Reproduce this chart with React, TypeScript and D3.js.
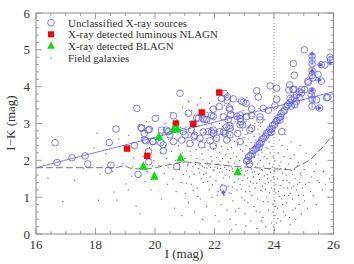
import * as d3 from "d3";

// I magnitude / I-K colour
const nlagn: [number, number][] = [
  [19.06, 2.32], [19.74, 2.12], [20.7, 3.0], [21.29, 2.99], [21.57, 3.3], [22.16, 3.84],
];

const blagn: [number, number][] = [
  [19.61, 1.83], [19.98, 1.56], [20.13, 2.63], [20.62, 2.84], [20.75, 2.84], [20.86, 2.06], [22.78, 1.68],
];

const unclassified: [number, number][] = [
  [16.64, 2.48], [16.71, 1.94], [17.21, 2.07], [17.65, 2.12], [17.74, 1.9], [18.43, 1.73], [18.46, 2.48],
  [18.52, 1.87], [18.69, 2.85], [19.31, 2.4], [19.39, 3.41], [19.43, 1.62], [19.53, 2.89], [19.64, 2.73],
  [19.69, 2.53], [19.78, 2.24], [19.79, 1.96], [19.81, 2.84], [19.92, 2.51], [20.01, 3.14], [20.2, 2.48],
  [20.28, 2.26], [20.39, 2.82], [20.5, 2.69], [20.73, 1.83], [20.84, 3.82],
  [19.55, 2.87], [19.66, 2.55], [19.77, 2.82], [19.94, 2.51], [20.22, 2.82], [20.28, 2.42], [20.45, 2.78],
  [20.62, 2.51], [20.62, 3.21], [20.9, 2.55], [20.95, 2.78], [21.01, 2.69], [21.12, 3.28], [21.18, 2.46],
  [21.23, 2.82], [21.31, 2.64], [21.34, 2.68], [21.4, 3.15], [21.46, 3.14], [21.51, 2.6], [21.57, 2.42],
  [21.62, 2.77], [21.62, 3.13], [21.68, 3.11], [21.74, 3.11], [21.79, 2.78], [21.85, 2.53], [21.9, 2.77],
  [21.9, 3.22], [21.96, 2.39], [21.96, 2.73], [21.96, 2.82], [21.96, 3.19], [21.96, 3.39], [22.07, 2.6],
  [22.16, 3.46], [22.18, 2.78], [22.24, 3.68], [22.3, 2.77], [22.3, 3.18], [22.33, 3.82], [22.35, 2.73],
  [22.41, 2.55], [22.41, 2.91], [22.43, 3.62], [22.43, 3.72], [22.46, 3.11], [22.5, 3.42], [22.52, 2.69],
  [22.52, 2.87], [22.52, 2.95], [22.52, 3.37], [22.54, 3.24], [22.63, 3.67], [22.75, 3.19], [22.78, 2.73],
  [22.86, 2.51], [22.86, 2.97], [22.86, 3.13], [22.86, 3.23], [22.89, 3.05], [22.91, 3.61], [22.95, 2.96],
  [22.97, 3.58], [23.06, 3.55], [23.08, 3.19], [23.19, 2.82], [23.25, 2.87], [23.25, 3.22], [23.25, 3.39],
  [23.42, 3.89], [23.47, 3.72], [23.53, 3.1], [23.53, 3.18], [23.64, 3.41], [23.81, 3.36], [23.87, 4.02],
  [24.03, 3.48], [24.09, 3.66], [24.09, 3.96], [24.26, 2.78], [22.3, 1.24],
  [24.5, 3.91], [24.54, 3.68], [24.67, 3.93], [24.93, 3.93], [25.15, 4.11], [25.43, 3.64], [25.77, 3.7],
  [25.02, 5.0], [25.88, 4.8], [24.65, 4.63], [25.71, 4.59], [24.68, 4.31], [24.53, 4.05], [24.64, 3.92],
  [25.14, 4.15], [25.31, 4.24], [25.48, 4.33], [25.59, 4.6], [25.59, 4.15], [25.9, 4.73], [25.81, 3.71],
  [25.03, 3.92], [24.92, 3.83], [24.86, 3.69], [24.75, 3.6], [24.7, 3.51], [24.58, 3.47], [25.25, 3.78],
  [25.28, 3.47], [25.53, 3.42], [25.28, 4.83], [25.28, 4.72], [25.28, 4.62], [25.28, 4.43], [25.28, 4.3],
  [25.28, 3.88], [25.28, 3.66],
  // K-limit stripe
  [23.08, 1.98], [23.13, 2.0], [23.15, 2.1], [23.21, 2.14], [23.27, 2.18], [23.3, 2.26], [23.37, 2.3],
  [23.42, 2.34], [23.45, 2.42], [23.52, 2.46], [23.57, 2.5], [23.6, 2.58], [23.66, 2.6], [23.72, 2.66],
  [23.76, 2.74], [23.82, 2.76], [23.86, 2.84], [23.93, 2.86], [23.96, 2.95], [24.02, 2.98], [24.07, 3.06],
  [24.11, 3.08], [24.16, 3.16], [24.22, 3.18], [24.25, 3.27], [24.31, 3.32], [24.36, 3.36], [24.41, 3.46],
  [24.46, 3.5], [24.53, 3.56], [24.6, 3.64], [24.68, 3.7], [24.76, 3.78], [24.85, 3.86], [23.18, 1.9],
  [23.5, 2.36], [23.9, 2.76], [24.2, 3.1],
];

// limits: [I, I-K from, I-K to] vertical, [I from, I to, I-K] horizontal
const vLimits: [number, number, number][] = [
  [25.28, 4.58, 4.95], [25.28, 4.22, 4.5], [25.28, 3.42, 3.98], [22.3, 1.2, 1.05], [25.88, 4.82, 4.58],
];
const hLimits: [number, number, number][] = [
  [25.42, 25.64, 4.59], [25.36, 25.6, 4.18], [25.36, 25.6, 3.42],
];

const fitLine: [number, number][] = [[16, 1.8], [26, 3.86]];

const limitCurve: [number, number][] = [
  [16, 1.8], [18.7, 1.8], [18.95, 1.855], [19.2, 1.78], [19.7, 1.76], [20.06, 1.81], [20.95, 1.96],
  [21.6, 1.92], [22.75, 1.83], [24.2, 1.76], [24.6, 1.74], [24.87, 1.87], [25.1, 1.96], [25.25, 2.04],
  [25.43, 2.19], [25.66, 2.37], [25.78, 2.5], [25.88, 2.6], [26, 2.64],
];

const fieldGalaxies: [number, number][] = [
  [16.4, 1.52], [16.9, 0.88], [17.3, 1.46], [17.6, 1.79], [17.95, 2.33], [18.1, 0.92], [18.15, 1.63],
  [18.35, 2.18], [18.62, 1.14], [18.72, 0.92], [18.78, 2.58], [18.92, 1.91], [19.02, 1.36], [19.12, 2.68],
  [19.22, 1.57], [19.28, 2.06], [19.36, 0.76], [19.47, 2.92], [18.05, 2.74], [19.25, 1.82], [18.58, 1.7],
  [19.1, 1.2],
  [19.55, 2.62], [19.61, 2.1], [19.66, 1.42], [19.71, 3.05], [19.74, 1.7], [19.82, 2.35], [19.86, 1.2],
  [19.9, 2.86], [19.96, 2.0], [20.02, 1.55], [20.06, 2.45], [20.1, 3.22], [20.13, 1.86], [20.18, 2.2],
  [20.21, 0.95], [20.26, 2.7], [20.31, 1.65], [20.33, 3.0], [20.39, 2.05], [20.41, 1.35], [20.46, 2.56],
  [20.5, 1.9], [20.53, 3.3], [20.56, 2.25], [20.6, 1.5], [20.64, 2.75], [20.68, 2.0], [20.71, 1.15],
  [20.73, 3.1], [20.79, 2.4], [20.81, 1.75], [20.86, 2.9], [20.88, 1.4], [20.91, 2.2], [20.93, 3.45],
  [20.97, 1.95], [20.99, 2.6], [19.63, 2.95], [19.92, 1.85], [20.35, 2.4], [20.66, 0.7], [20.16, 2.55],
  [20.44, 1.8], [20.76, 2.55], [20.95, 1.62],
  [21.02, 1.1], [21.05, 1.72], [21.01, 2.05], [21.08, 2.38], [21.04, 2.9], [21.07, 3.25],
  [21.12, 0.85], [21.15, 1.55], [21.11, 1.9], [21.18, 2.25], [21.14, 2.62], [21.16, 3.05], [21.13, 3.6],
  [21.22, 1.35], [21.27, 1.83], [21.21, 2.12], [21.25, 2.48], [21.29, 2.8], [21.23, 3.35],
  [21.33, 0.6], [21.31, 1.62], [21.36, 1.95], [21.38, 2.3], [21.32, 2.7], [21.35, 3.1],
  [21.42, 1.25], [21.47, 1.78], [21.41, 2.05], [21.45, 2.42], [21.48, 2.95], [21.43, 3.5],
  [21.52, 0.95], [21.55, 1.5], [21.51, 1.88], [21.58, 2.18], [21.54, 2.55], [21.57, 3.2], [21.53, 3.7],
  [21.62, 1.4], [21.66, 1.8], [21.61, 2.02], [21.68, 2.35], [21.64, 2.75], [21.67, 3.05],
  [21.73, 0.75], [21.71, 1.65], [21.76, 1.92], [21.78, 2.28], [21.72, 2.6], [21.75, 3.3],
  [21.82, 1.2], [21.85, 1.55], [21.81, 1.85], [21.88, 2.1], [21.84, 2.48], [21.86, 2.88], [21.83, 3.55],
  [21.92, 1.0], [21.95, 1.72], [21.91, 1.98], [21.97, 2.32], [21.94, 2.65], [21.98, 3.15],
  [22.02, 0.5], [22.05, 1.45], [22.01, 1.82], [22.07, 2.08], [22.04, 2.4], [22.08, 2.78], [22.03, 3.4],
  [22.12, 1.15], [22.16, 1.68], [22.11, 1.9], [22.18, 2.22], [22.14, 2.55], [22.17, 3.0], [22.13, 3.62],
  [22.22, 0.8], [22.25, 1.35], [22.21, 1.78], [22.27, 2.05], [22.24, 2.38], [22.28, 2.7], [22.23, 3.25],
  [22.32, 1.05], [22.36, 1.6], [22.31, 1.88], [22.38, 2.15], [22.34, 2.5], [22.37, 2.9], [22.33, 3.5],
  [22.42, 0.65], [22.45, 1.3], [22.41, 1.75], [22.47, 1.95], [22.44, 2.3], [22.48, 2.62], [22.43, 3.1],
  [22.46, 3.75],
  [22.52, 0.4], [22.55, 1.1], [22.51, 1.55], [22.58, 1.82], [22.54, 2.05], [22.57, 2.35], [22.53, 2.68],
  [22.56, 3.0], [22.59, 3.45],
  [22.62, 0.9], [22.66, 1.4], [22.61, 1.7], [22.68, 1.92], [22.64, 2.2], [22.67, 2.52], [22.63, 2.85],
  [22.65, 3.3],
  [22.72, 0.25], [22.75, 1.2], [22.71, 1.62], [22.78, 1.85], [22.74, 2.1], [22.77, 2.42], [22.73, 2.75],
  [22.76, 3.15], [22.79, 3.6],
  [22.82, 0.7], [22.86, 1.35], [22.81, 1.5], [22.88, 1.78], [22.84, 2.0], [22.87, 2.3], [22.83, 2.6],
  [22.85, 2.95],
  [22.92, 1.0], [22.95, 1.45], [22.91, 1.72], [22.98, 1.95], [22.94, 2.25], [22.97, 2.5], [22.93, 2.82],
  [22.96, 3.35],
  [23.02, 0.55], [23.05, 1.15], [23.01, 1.6], [23.08, 1.88], [23.04, 2.12], [23.07, 2.4], [23.03, 2.7],
  [23.06, 3.05], [23.09, 3.7],
  [23.12, 0.85], [23.16, 1.3], [23.11, 1.52], [23.18, 1.8], [23.14, 2.02], [23.17, 2.32], [23.13, 2.58],
  [23.15, 2.9],
  [23.22, 0.35], [23.25, 1.05], [23.21, 1.42], [23.28, 1.68], [23.24, 1.92], [23.27, 2.18], [23.23, 2.48],
  [23.26, 2.78], [23.29, 3.2],
  [23.32, 0.75], [23.36, 1.25], [23.31, 1.55], [23.38, 1.82], [23.34, 2.08], [23.37, 2.38], [23.33, 2.65],
  [23.35, 3.0],
  [23.42, 0.15], [23.45, 0.95], [23.41, 1.38], [23.48, 1.62], [23.44, 1.9], [23.47, 2.15], [23.43, 2.45],
  [23.46, 2.85], [23.49, 3.4],
  [23.52, 0.6], [23.56, 1.18], [23.51, 1.48], [23.58, 1.75], [23.54, 2.0], [23.57, 2.28], [23.53, 2.55],
  [23.55, 2.92],
  [23.62, 0.45], [23.65, 0.88], [23.61, 1.3], [23.68, 1.58], [23.64, 1.85], [23.67, 2.1], [23.63, 2.4],
  [23.66, 2.72], [23.69, 3.1],
  [23.72, 0.2], [23.76, 1.0], [23.71, 1.22], [23.78, 1.5], [23.74, 1.78], [23.77, 2.05], [23.73, 2.35],
  [23.75, 2.62],
  [23.82, 0.65], [23.85, 1.12], [23.81, 1.4], [23.88, 1.68], [23.84, 1.92], [23.87, 2.2], [23.83, 2.5],
  [23.86, 2.85],
  [23.92, 0.3], [23.96, 0.8], [23.91, 1.25], [23.98, 1.55], [23.94, 1.82], [23.97, 2.1], [23.93, 2.38],
  [23.95, 2.7], [23.99, 3.05],
  [24.01, 0.1], [24.03, 0.5], [24.02, 0.9], [24.04, 1.35], [24.01, 1.7], [24.03, 2.0],
  [24.12, 0.7], [24.15, 1.15], [24.11, 1.5], [24.18, 1.85], [24.14, 2.2], [24.17, 2.55],
  [24.22, 0.35], [24.26, 0.95], [24.21, 1.32], [24.28, 1.65], [24.24, 1.95], [24.27, 2.4],
  [24.32, 0.6], [24.35, 1.05], [24.31, 1.45], [24.38, 1.78], [24.34, 2.1], [24.37, 2.7],
  [24.42, 0.85], [24.46, 1.25], [24.41, 1.6], [24.48, 1.9], [24.44, 2.3],
  [24.52, 0.45], [24.55, 1.1], [24.51, 1.4], [24.58, 1.72], [24.54, 2.05], [24.57, 2.5],
  [24.62, 0.95], [24.66, 1.3], [24.61, 1.62], [24.68, 2.15],
  [24.72, 0.7], [24.75, 1.2], [24.71, 1.5], [24.78, 1.85],
  [24.82, 1.05], [24.86, 1.4], [24.81, 1.95], [24.88, 2.4],
  [24.92, 0.55], [24.95, 1.25], [24.91, 1.6],
  [25.02, 0.9], [25.06, 1.35], [25.01, 1.75], [25.08, 2.2],
  [25.22, 1.15], [25.26, 1.55],
  [25.42, 0.8], [25.45, 1.45], [25.41, 1.9],
  [25.62, 1.2], [25.66, 1.7],
  [25.82, 1.0], [25.86, 1.5],
  // second pass, in between the columns
  [21.06, 1.38], [21.19, 2.93], [21.28, 1.18], [21.39, 2.6], [21.44, 1.02], [21.56, 2.83], [21.63, 1.62],
  [21.69, 2.48], [21.77, 1.42], [21.89, 2.98], [21.93, 1.33], [22.06, 2.62], [22.09, 1.05], [22.19, 1.97],
  [22.26, 2.92], [22.29, 1.52], [22.39, 2.72], [22.49, 1.12], [22.55, 2.55], [22.6, 1.28], [22.69, 3.05],
  [22.7, 0.62], [22.8, 2.48], [22.9, 1.22], [22.99, 2.62], [23.0, 0.92], [23.1, 2.72], [23.19, 1.15],
  [23.2, 2.98], [23.3, 1.38], [23.39, 2.55], [23.4, 0.62], [23.5, 2.72], [23.59, 0.35], [23.6, 2.22],
  [23.7, 1.38], [23.79, 2.32], [23.8, 0.88], [23.9, 1.45], [24.06, 1.12], [24.08, 0.3], [23.97, 0.6],
  [24.0, 1.5], [24.05, 0.75], [23.99, 0.2], [24.02, 1.2], [24.13, 0.42], [24.19, 1.02], [24.23, 1.78],
  [24.29, 0.8], [24.33, 1.25], [24.39, 0.5], [24.43, 1.45], [24.49, 1.05], [24.53, 0.25], [24.59, 1.25],
  [24.63, 0.65], [24.69, 1.75], [24.73, 0.4], [24.79, 1.35], [24.84, 0.8], [24.89, 1.65], [24.98, 1.05],
  [25.12, 0.7], [25.18, 1.4], [25.32, 1.05], [25.35, 1.7], [25.52, 1.4], [25.72, 1.35], [25.93, 1.2],
  [22.15, 0.35], [22.58, 0.12], [23.05, 0.22], [21.6, 0.4], [20.9, 0.5], [19.5, 0.55],
  [21.24, 1.71], [21.49, 1.66], [21.74, 1.79], [21.99, 1.74], [22.26, 1.69], [22.5, 1.73], [22.76, 1.66],
  [23.03, 1.71], [23.24, 1.77], [23.5, 1.64], [23.77, 1.61], [21.1, 1.86], [21.36, 1.89], [21.59, 1.84],
  [21.86, 1.81], [22.1, 1.79], [22.34, 1.81], [22.6, 1.77], [22.84, 1.74], [23.11, 1.73], [23.34, 1.69],
  [23.61, 1.73], [23.84, 1.76],
];

const legendItems = [
  "Unclassified X-ray sources",
  "X-ray detected luminous NLAGN",
  "X-ray detected BLAGN",
  "Field galaxies",
];

const BLUE = "#5a5cf0";
const FONT = "'Liberation Serif', 'DejaVu Serif', serif";

export default function App() {
  const W = 354, H = 264;
  const x = d3.scaleLinear().domain([16, 26]).range([36, 333.5]);
  const y = d3.scaleLinear().domain([0, 6]).range([234, 13]);
  const [x0, x1] = x.range();
  const [y0, y1] = y.range();

  const line = d3.line<[number, number]>().x(d => x(d[0])).y(d => y(d[1]));

  const xMajor = x.ticks(5);
  const xMinor = x.ticks(20);
  const yMajor = y.ticks(6);
  const yMinor = y.ticks(30);

  const tri = (cx: number, cy: number, s: number) =>
    `M${cx},${cy - s * 0.62}L${cx + s / 2},${cy + s * 0.38}L${cx - s / 2},${cy + s * 0.38}Z`;

  const arrowHead = (ax: number, ay: number, dir: "up" | "down" | "right") => {
    const s = 2.6;
    if (dir === "up") return `M${ax},${ay}L${ax - s},${ay + s * 1.4}L${ax + s},${ay + s * 1.4}Z`;
    if (dir === "down") return `M${ax},${ay}L${ax - s},${ay - s * 1.4}L${ax + s},${ay - s * 1.4}Z`;
    return `M${ax},${ay}L${ax - s * 1.4},${ay - s}L${ax - s * 1.4},${ay + s}Z`;
  };

  const legendY = [22.7, 34.3, 46, 58];

  return (
    <svg width={W} height={H} style={{ position: "absolute", left: 0, top: 0, background: "#fff" }}>
      {/* field galaxies */}
      <g fill="#444" fillOpacity={0.85}>
        {fieldGalaxies.map((d, i) => (
          <rect key={i} x={x(d[0]) - 0.5} y={y(d[1]) - 0.5} width={1.1} height={1.1} />
        ))}
      </g>

      {/* I = 24 limit */}
      <line x1={x(24)} x2={x(24)} y1={y0} y2={y1} stroke="#777" strokeWidth={0.8} strokeDasharray="1,2" />

      <path d={line(limitCurve) ?? ""} fill="none" stroke="#666" strokeWidth={0.9} strokeDasharray="7,3" />
      <path d={line(fitLine) ?? ""} fill="none" stroke={BLUE} strokeWidth={0.8} />

      <g fill="none" stroke={BLUE} strokeWidth={0.8}>
        {unclassified.map((d, i) => (
          <circle key={i} cx={x(d[0])} cy={y(d[1])} r={3.3} />
        ))}
        {vLimits.map((d, i) => (
          <g key={"v" + i}>
            <line x1={x(d[0])} x2={x(d[0])} y1={y(d[1])} y2={y(d[2])} />
            <path d={arrowHead(x(d[0]), y(d[2]), d[2] > d[1] ? "up" : "down")} fill={BLUE} stroke="none" />
          </g>
        ))}
        {hLimits.map((d, i) => (
          <g key={"h" + i}>
            <line x1={x(d[0])} x2={x(d[1])} y1={y(d[2])} y2={y(d[2])} />
            <path d={arrowHead(x(d[1]), y(d[2]), "right")} fill={BLUE} stroke="none" />
          </g>
        ))}
      </g>

      <g fill="#ff0000">
        {nlagn.map((d, i) => (
          <rect key={i} x={x(d[0]) - 3.2} y={y(d[1]) - 3.2} width={6.4} height={6.4} />
        ))}
      </g>
      <g fill="#00e400">
        {blagn.map((d, i) => (
          <path key={i} d={tri(x(d[0]), y(d[1]), 8.5)} />
        ))}
      </g>

      {/* frame and ticks */}
      <rect x={x0} y={y1} width={x1 - x0} height={y0 - y1} fill="none" stroke="#888" strokeWidth={1} />
      <g stroke="#888" strokeWidth={0.8}>
        {xMinor.map(t => {
          const len = xMajor.includes(t) ? 6 : 3;
          return (
            <g key={"x" + t}>
              <line x1={x(t)} x2={x(t)} y1={y0} y2={y0 - len} />
              <line x1={x(t)} x2={x(t)} y1={y1} y2={y1 + len} />
            </g>
          );
        })}
        {yMinor.map(t => {
          const len = yMajor.includes(t) ? 6 : 3;
          return (
            <g key={"y" + t}>
              <line x1={x0} x2={x0 + len} y1={y(t)} y2={y(t)} />
              <line x1={x1} x2={x1 - len} y1={y(t)} y2={y(t)} />
            </g>
          );
        })}
      </g>

      <g fontFamily={FONT} fontSize={13} fill="#333">
        {xMajor.map(t => (
          <text key={t} x={x(t)} y={248.5} textAnchor="middle">{t}</text>
        ))}
        {yMajor.map(t => (
          <text key={t} x={30} y={y(t) + 4.5} textAnchor="end">{t}</text>
        ))}
        <text x={184} y={258} textAnchor="middle">I (mag)</text>
        <text transform="translate(14.5,123) rotate(-90)" textAnchor="middle">I−K (mag)</text>
      </g>

      {/* legend */}
      <g fontFamily={FONT} fontSize={11} fill="#333">
        <circle cx={51} cy={legendY[0]} r={3.3} fill="none" stroke={BLUE} strokeWidth={0.8} />
        <rect x={51 - 3} y={legendY[1] - 3} width={6} height={6} fill="#ff0000" />
        <path d={tri(51, legendY[2], 7.5)} fill="#00e400" />
        <rect x={50.5} y={legendY[3] - 0.5} width={1.1} height={1.1} fill="#555" />
        {legendItems.map((s, i) => (
          <text key={s} x={68} y={legendY[i] + 3.8}>{s}</text>
        ))}
      </g>
    </svg>
  );
}
